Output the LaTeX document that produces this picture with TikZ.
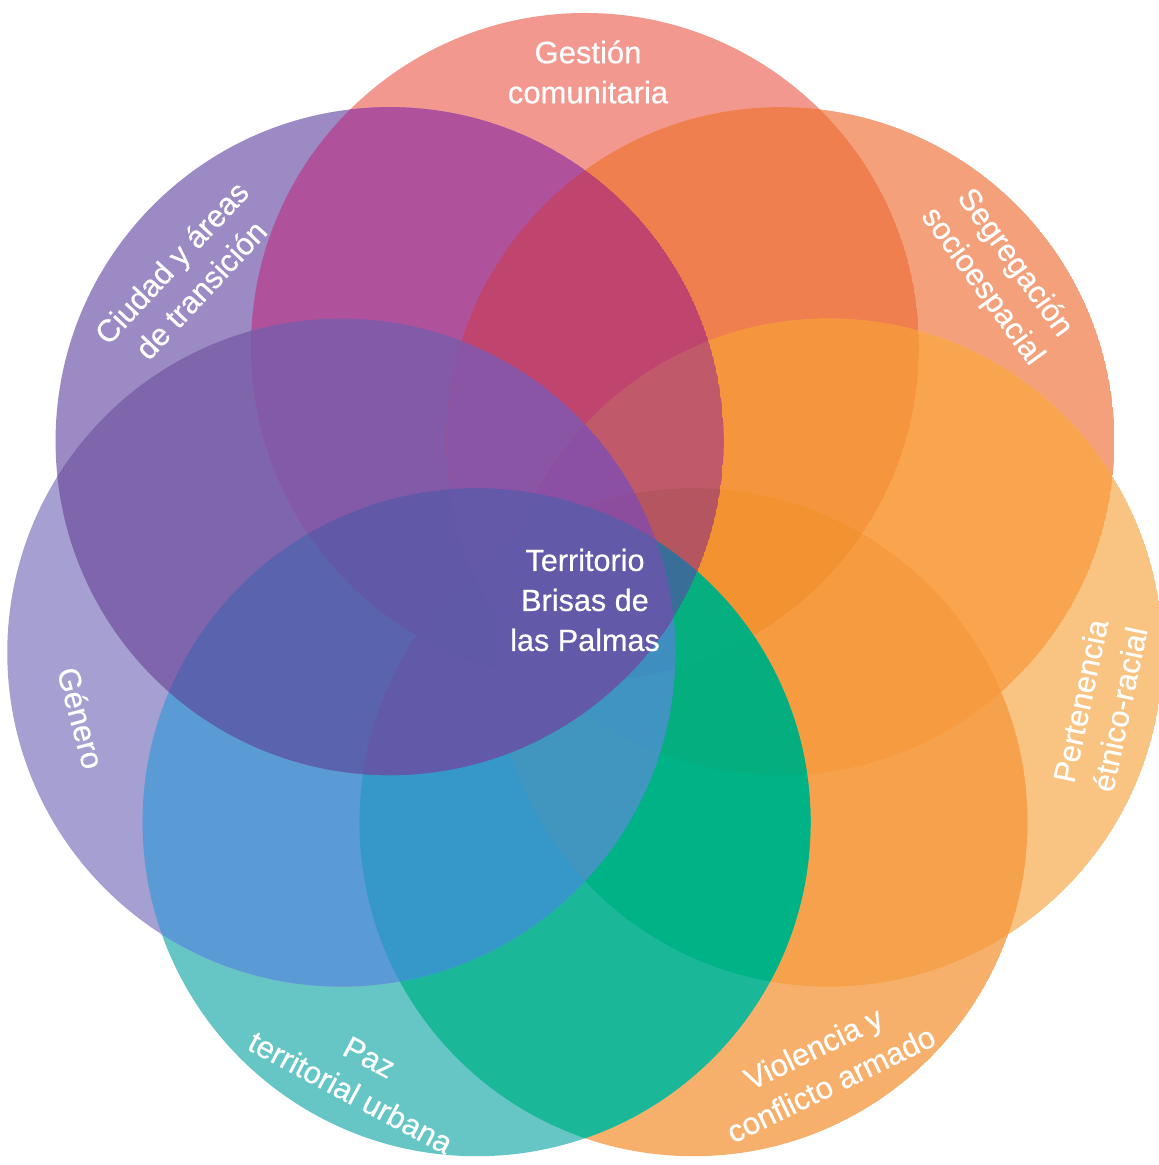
\documentclass[tikz,border=0pt]{standalone}
\usepackage{fontspec}
\setmainfont{Liberation Sans}

% region colours: r<first circle><number of circles>
% circles clockwise from the top: 0 gestion, 1 segregacion, 2 pertenencia,
% 3 violencia, 4 paz, 5 genero, 6 ciudad
\definecolor{r01}{HTML}{F3988F}
\definecolor{r11}{HTML}{F4A17B}
\definecolor{r21}{HTML}{F9C382}
\definecolor{r31}{HTML}{F7B06B}
\definecolor{r41}{HTML}{66C6C6}
\definecolor{r51}{HTML}{A5A0D1}
\definecolor{r61}{HTML}{9C8AC4}
\definecolor{r02}{HTML}{F07F50}
\definecolor{r12}{HTML}{F9A54F}
\definecolor{r22}{HTML}{F6A24D}
\definecolor{r32}{HTML}{1AB899}
\definecolor{r42}{HTML}{5B9BD5}
\definecolor{r52}{HTML}{7F65AC}
\definecolor{r62}{HTML}{B0519C}
\definecolor{r03}{HTML}{F5963F}
\definecolor{r13}{HTML}{F69B3F}
\definecolor{r23}{HTML}{00B386}
\definecolor{r33}{HTML}{3598C9}
\definecolor{r43}{HTML}{5A63AD}
\definecolor{r53}{HTML}{825AA8}
\definecolor{r63}{HTML}{BF446E}
\definecolor{r04}{HTML}{F39230}
\definecolor{r14}{HTML}{04AE7F}
\definecolor{r24}{HTML}{4196C0}
\definecolor{r34}{HTML}{6259A8}
\definecolor{r44}{HTML}{6159A8}
\definecolor{r54}{HTML}{8A55A5}
\definecolor{r64}{HTML}{C05A6A}
\definecolor{r05}{HTML}{05AF7F}
\definecolor{r15}{HTML}{3F94C1}
\definecolor{r25}{HTML}{6259A8}
\definecolor{r35}{HTML}{6059A8}
\definecolor{r45}{HTML}{6359A8}
\definecolor{r55}{HTML}{8B50A3}
\definecolor{r65}{HTML}{B5555F}
\definecolor{r06}{HTML}{3E8FBF}
\definecolor{r16}{HTML}{6259A8}
\definecolor{r26}{HTML}{6259A8}
\definecolor{r36}{HTML}{6259A8}
\definecolor{r46}{HTML}{6259A8}
\definecolor{r56}{HTML}{8C4D9F}
\definecolor{r66}{HTML}{386E98}
\definecolor{core}{HTML}{6259A8}

\newcommand{\circrad}{334}

\begin{document}
\begin{tikzpicture}[x=0.5pt, y=0.5pt,
    lbl/.style={text=white, align=center,
      font=\fontsize{15.5}{20}\selectfont\addfontfeature{FakeBold=0.5}}]
  \useasboundingbox (0,0) rectangle (1158,1165);

  % seven circles on a ring
  \coordinate (O) at (585,568);
  \foreach \k in {0,...,6}
    \path (O) ++({90-\k*360/7}:250) coordinate (c\k);

  % overlaps, painted from one circle up to six
  \foreach \L in {1,...,6}{
    \foreach \k in {0,...,6}{
      \begin{scope}
        \foreach \j in {1,...,\L}{
          \pgfmathtruncatemacro\m{mod(\k+\j-1,7)}
          \clip (c\m) circle [radius=\circrad];
        }
        \fill[r\k\L] (c\k) circle [radius=\circrad];
      \end{scope}
    }
  }
  % all seven
  \begin{scope}
    \foreach \m in {0,...,6}
      \clip (c\m) circle [radius=\circrad];
    \fill[core] (O) circle [radius=\circrad];
  \end{scope}

  \node[lbl] (gestion) at (588,1093) {Gestión\\comunitaria};
  \node[lbl, rotate=-54] (segregacion) at (998,890) {Segregación\\socioespacial};
  \node[lbl, rotate=78] (pertenencia) at (1100,460) {Pertenencia\\étnico-racial};
  \node[lbl, rotate=26] (violencia) at (822,99) {Violencia y\\conflicto armado};
  \node[lbl, rotate=-28] (paz) at (360,90) {Paz\\territorial urbana};
  \node[lbl, rotate=-75] (genero) at (81,447) {Género};
  \node[lbl, rotate=47] (ciudad) at (186,889) {Ciudad y áreas\\de transición};
  \node[lbl, font=\fontsize{15.3}{20}\selectfont\addfontfeature{FakeBold=0.5}]
    (territorio) at (585,565) {Territorio\\Brisas de\\las Palmas};
\end{tikzpicture}
\end{document}
